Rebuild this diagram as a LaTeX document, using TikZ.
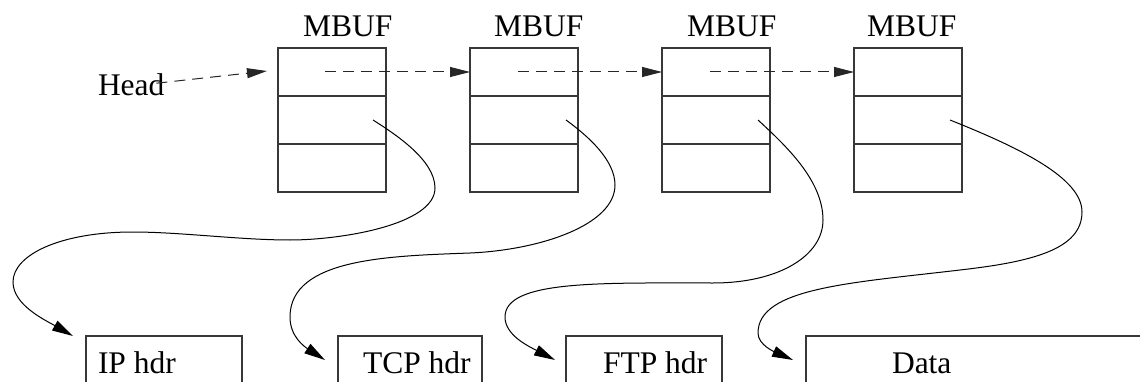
\documentclass[tikz,border=0pt]{standalone}
\usepackage{fontspec}
\setmainfont{Liberation Serif}
\usetikzlibrary{arrows.meta,calc}
\begin{document}
\begin{tikzpicture}[x=1pt,y=-1pt,
  every node/.style={inner sep=0pt,outer sep=0pt},
  lbl/.style={font=\fontsize{31.5}{36}\selectfont,anchor=base west},
  frame/.style={draw=black!78,line width=1.2pt},
  mbuf/.style={frame,minimum width=108pt,minimum height=144pt,anchor=north west},
  pkt/.style={frame,minimum height=70pt,anchor=north west},
  link/.style={draw=black!85,line width=1pt,dash pattern=on 11pt off 7pt,
    -{Triangle[length=20pt,width=10pt]}},
  ptr/.style={line width=1pt,-{Triangle[length=21pt,width=11pt]}}]
\useasboundingbox (0,0) rectangle (1140,382);
\clip (0,0) rectangle (1140,382);

% mbuf chain: each buffer has three slots
\foreach \i/\x/\lx in {1/278/303,2/470/494,3/662/687,4/854/867}{
  \node[mbuf] (m\i) at (\x,48) {};
  \draw[frame] ($(m\i.north west)+(0,48)$) -- ($(m\i.north east)+(0,48)$);
  \draw[frame] ($(m\i.north west)+(0,96)$) -- ($(m\i.north east)+(0,96)$);
  \node[lbl] (t\i) at (\lx,37) {MBUF};
}

% head pointer
\node[lbl] (head) at (98,96) {Head};
\draw[link] ($(head.east)+(-8,-2)$) -- ($(m1.north west)+(-11,23)$);

% next pointers
\draw[link] ($(m1.north west)+(47,24)$) -- ($(m2.north west)+(0,24)$);
\draw[link] ($(m2.north west)+(48,24)$) -- ($(m3.north west)+(0,24)$);
\draw[link] ($(m3.north west)+(48,24)$) -- ($(m4.north west)+(0,24)$);

% packet pieces
\node[pkt,minimum width=156pt] (ip) at (86,336) {};
\node[pkt,minimum width=144pt] (tcp) at (338,336) {};
\node[pkt,minimum width=156pt] (ftp) at (566,336) {};
\node[pkt,minimum width=360pt] (data) at (806,336) {};
\node[lbl] (ipt) at (98,373) {IP hdr};
\node[lbl] (tcpt) at (363,373) {TCP hdr};
\node[lbl] (ftpt) at (603,373) {FTP hdr};
\node[lbl] (datat) at (892,373) {Data};

% data pointers
\draw[ptr] ($(m1.north west)+(95,72)$)
  .. controls (395,134) and (435,160) .. (435,188)
  .. controls (435,225) and (340,240) .. (290,240)
  .. controls (240,240) and (180,232) .. (133,232)
  .. controls (60,232) and (13,255) .. (13,282)
  .. controls (13,305) and (45,320) .. ($(ip.north west)+(-13,0)$);
\draw[ptr] ($(m2.north west)+(96,72)$)
  .. controls (588,136) and (615,160) .. (615,185)
  .. controls (615,225) and (540,250) .. (470,253)
  .. controls (390,256) and (290,258) .. (290,317)
  .. controls (290,337) and (305,347) .. ($(tcp.north west)+(-13,24)$);
\draw[ptr] ($(m3.north west)+(96,72)$)
  .. controls (785,145) and (823,180) .. (823,220)
  .. controls (823,255) and (780,283) .. (713,283)
  .. controls (600,283) and (505,280) .. (505,317)
  .. controls (505,335) and (528,346) .. ($(ftp.north west)+(-11,24)$);
\draw[ptr] ($(m4.north west)+(96,72)$)
  .. controls (1020,148) and (1082,178) .. (1082,212)
  .. controls (1082,250) and (1030,262) .. (960,270)
  .. controls (850,283) and (758,288) .. (758,333)
  .. controls (758,345) and (775,352) .. ($(data.north west)+(-13,24)$);
\end{tikzpicture}
\end{document}
